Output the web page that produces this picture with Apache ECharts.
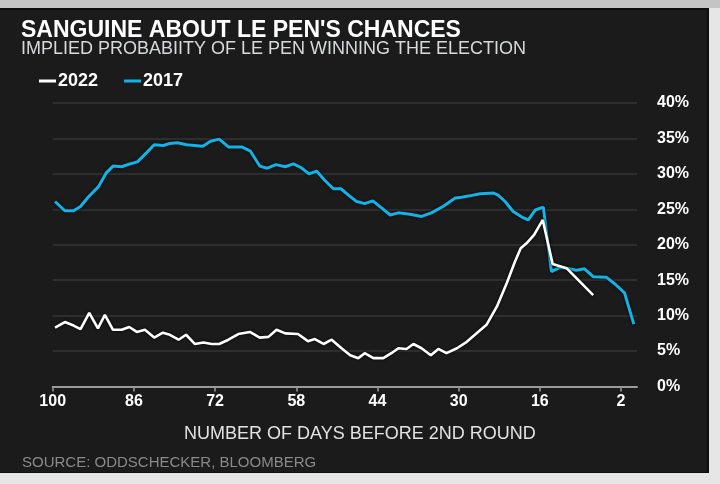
<!DOCTYPE html>
<html>
<head>
<meta charset="utf-8">
<script src="https://cdn.jsdelivr.net/npm/echarts@6/dist/echarts.min.js"></script>
<style>
html,body{margin:0;padding:0;background:#e6e6e6;}
#chart{width:720px;height:484px;}
</style>
</head>
<body>
<div id="chart"></div>
<script>
// ---- Data ----
const titleText = "SANGUINE ABOUT LE PEN'S CHANCES";
const subtitleText = "IMPLIED PROBABIITY OF LE PEN WINNING THE ELECTION";
const xAxisName = "NUMBER OF DAYS BEFORE 2ND ROUND";
const sourceText = "SOURCE: ODDSCHECKER, BLOOMBERG";
const seriesNames = ["2022", "2017"];

const xTickValues = [100, 86, 72, 58, 44, 30, 16, 2];

const days2017 = [99.6, 97.9, 96.4, 95.2, 93.9, 92.1, 90.8, 89.6, 88.1, 86.7, 85.4, 83.8, 82.5, 80.9, 79.8, 78.5, 76.9, 75.5, 74.1, 72.8, 71.3, 69.7, 67.4, 65.9, 64.3, 63.0, 61.5, 59.9, 58.5, 57.2, 55.8, 54.5, 53.1, 51.6, 50.3, 49.0, 47.6, 46.2, 44.8, 43.3, 41.8, 40.4, 38.4, 36.4, 34.7, 32.7, 30.6, 29.5, 28.1, 26.3, 24.0, 23.2, 22.0, 20.6, 19.1, 18.0, 16.8, 15.4, 14.0, 12.5, 10.8, 9.7, 8.3, 6.8, 4.5, 3.1, 1.4, -0.2];
const values2017 = [26.1, 24.8, 24.8, 25.4, 26.7, 28.2, 30.1, 31.1, 31.0, 31.4, 31.7, 33.0, 34.1, 34.0, 34.3, 34.4, 34.1, 34.0, 33.9, 34.6, 34.9, 33.8, 33.8, 33.2, 31.1, 30.8, 31.3, 31.0, 31.4, 30.9, 30.0, 30.4, 29.1, 27.9, 27.9, 27.0, 26.1, 25.8, 26.2, 25.2, 24.2, 24.5, 24.3, 24.0, 24.5, 25.4, 26.6, 26.7, 26.9, 27.2, 27.3, 27.0, 26.1, 24.7, 23.9, 23.5, 24.9, 25.3, 16.2, 16.8, 16.6, 16.4, 16.6, 15.5, 15.4, 14.5, 13.2, 8.8];

const days2022 = [99.6, 97.9, 96.4, 95.2, 93.7, 92.2, 91.0, 89.6, 88.1, 86.8, 85.5, 84.1, 82.5, 81.0, 79.8, 78.3, 77.0, 75.5, 74.0, 72.6, 71.3, 69.7, 68.0, 66.0, 64.3, 62.8, 61.4, 59.9, 57.7, 56.0, 54.8, 53.3, 51.9, 50.2, 48.7, 47.3, 46.2, 44.7, 43.0, 41.6, 40.4, 39.0, 37.8, 36.4, 34.8, 33.5, 32.1, 30.3, 28.6, 26.9, 25.2, 23.4, 21.7, 20.3, 19.3, 18.3, 17.0, 15.5, 13.8, 11.4, 9.1, 6.8];
const values2022 = [8.3, 9.1, 8.6, 8.1, 10.4, 8.2, 10.1, 8.0, 8.0, 8.4, 7.7, 8.0, 6.9, 7.6, 7.3, 6.6, 7.3, 6.0, 6.2, 6.0, 6.0, 6.6, 7.4, 7.7, 6.9, 7.0, 8.0, 7.5, 7.4, 6.4, 6.7, 6.0, 6.6, 5.4, 4.4, 4.0, 4.7, 4.0, 4.0, 4.7, 5.4, 5.3, 6.0, 5.4, 4.4, 5.3, 4.7, 5.4, 6.3, 7.5, 8.7, 11.3, 14.6, 17.6, 19.5, 20.2, 21.4, 23.5, 17.3, 16.7, 14.8, 12.9];

// ---- Chart ----
const FONT = "'Liberation Sans', Arial, Helvetica, sans-serif";
const pairs = (xs, ys) => xs.map((x, i) => [x, ys[i]]);

const chart = echarts.init(document.getElementById('chart'), null, {renderer: 'canvas'});
chart.setOption({
  animation: false,
  backgroundColor: '#e6e6e6',
  graphic: [
    {type: 'rect', z: -100, shape: {x: 0, y: 0, width: 720, height: 8}, style: {fill: '#c4c4c4'}, silent: true},
    {type: 'rect', z: -100, shape: {x: 0, y: 8, width: 709, height: 465}, style: {fill: '#0e0e0e'}, silent: true},
    {type: 'rect', z: -99, shape: {x: 0, y: 10, width: 707, height: 462}, style: {fill: '#1b1b1b'}, silent: true},
    {type: 'text', left: 22, top: 455, style: {text: sourceText, fill: '#8a8a8a', font: '15px ' + FONT}}
  ],
  title: [
    {text: titleText, left: 21, top: 19, padding: 0,
     textStyle: {color: '#ffffff', fontFamily: FONT, fontWeight: 'bold', fontSize: 23}},
    {text: subtitleText, left: 21, top: 40, padding: 0,
     textStyle: {color: '#d6dadd', fontFamily: FONT, fontWeight: 'normal', fontSize: 18}}
  ],
  legend: {
    data: seriesNames,
    left: 39, top: 72, padding: 0,
    icon: 'rect', itemWidth: 17, itemHeight: 3, itemGap: 26,
    textStyle: {color: '#ffffff', fontFamily: FONT, fontWeight: 'bold', fontSize: 18, padding: [0, 0, 0, -3]}
  },
  grid: {left: 52.7, right: 83, top: 103, bottom: 97.5},
  xAxis: {
    type: 'value', inverse: true, min: -0.75, max: 100,
    name: xAxisName, nameLocation: 'middle', nameGap: 39,
    nameTextStyle: {color: '#e2e2e2', fontFamily: FONT, fontSize: 18, padding: [0, 0, 0, 30]},
    axisLine: {show: true, lineStyle: {color: '#9a9a9a', width: 2}},
    axisTick: {show: true, customValues: xTickValues, length: 5, lineStyle: {color: '#9a9a9a', width: 1.5}},
    axisLabel: {customValues: xTickValues, color: '#ffffff', fontFamily: FONT, fontWeight: 'bold', fontSize: 16, margin: 7},
    splitLine: {show: false}
  },
  yAxis: {
    type: 'value', position: 'right', min: 0, max: 40, interval: 5,
    axisLine: {show: false}, axisTick: {show: false},
    axisLabel: {formatter: '{value}%', color: '#ffffff', fontFamily: FONT, fontWeight: 'bold', fontSize: 16, margin: 20},
    splitLine: {lineStyle: {color: '#363636', width: 1.5}}
  },
  series: [
    {name: seriesNames[0], type: 'line', z: 4, showSymbol: false, symbol: 'none',
     data: pairs(days2022, values2022), color: '#ffffff',
     lineStyle: {color: '#ffffff', width: 2.6, shadowColor: 'rgba(0,0,0,0.9)', shadowBlur: 3}},
    {name: seriesNames[1], type: 'line', z: 3, showSymbol: false, symbol: 'none',
     data: pairs(days2017, values2017), color: '#12b3e6',
     lineStyle: {color: '#12b3e6', width: 3, shadowColor: 'rgba(0,0,0,0.9)', shadowBlur: 3}}
  ]
});
</script>
</body>
</html>
